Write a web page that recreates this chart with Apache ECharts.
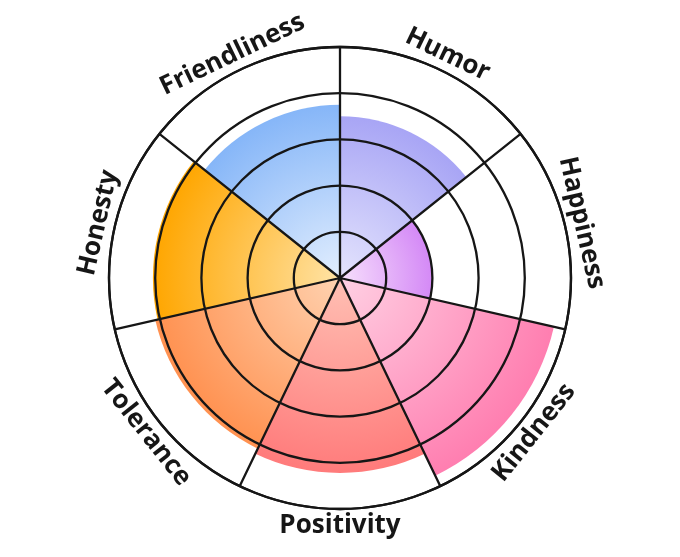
<!DOCTYPE html>
<html>
<head>
<meta charset="utf-8">
<script src="https://cdn.jsdelivr.net/npm/echarts@6/dist/echarts.min.js"></script>
<style>
  html, body { margin: 0; padding: 0; background: #fff; }
  #chart { width: 680px; height: 557px; }
</style>
</head>
<body>
<div id="chart"></div>
<script>
// traits, clockwise from the top
const traits = ['Humor', 'Happiness', 'Kindness', 'Positivity', 'Tolerance', 'Honesty', 'Friendliness']
const scores = [3.5, 2.0, 4.75, 4.22, 4.1, 4.05, 3.75]
const scaleMax = 5
const ringStep = 1

// colours: light near the centre, strong at the outer edge
const innerColors = ['#e4e4fd', '#f7e0fc', '#ffd0e3', '#ffc0b4', '#ffd2b0', '#ffe3a6', '#e2eefe']
const outerColors = ['#a8a5f5', '#d489f6', '#ff7eb0', '#ff7b7b', '#ff9150', '#ffa600', '#86b6f8']

const cx = 340
const cy = 278
const outerR = 231
const lineColor = '#161616'

const chart = echarts.init(document.getElementById('chart'))

const barData = scores.map((v, i) => ({
  value: v,
  itemStyle: {
    color: {
      type: 'radial',
      x: cx,
      y: cy,
      r: outerR * v / scaleMax,
      global: true,
      colorStops: [
        { offset: 0, color: innerColors[i] },
        { offset: 1, color: outerColors[i] }
      ]
    }
  }
}))

// labels set along the outer ring, turned to follow it
const labelR = 248
const step = 360 / traits.length
const labels = traits.map((name, i) => {
  const theta = 90 - (i + 0.5) * step
  const rad = theta * Math.PI / 180
  const top = Math.sin(rad) >= 0
  const rot = (top ? theta - 90 : theta + 90) * Math.PI / 180
  return {
    type: 'text',
    x: cx + labelR * Math.cos(rad),
    y: cy - labelR * Math.sin(rad),
    rotation: rot,
    style: {
      text: name,
      fill: '#161616',
      font: 'bold 26px "Open Sans", sans-serif',
      align: 'center',
      verticalAlign: 'middle'
    }
  }
})

const option = {
  animation: false,
  polar: {
    center: [cx, cy],
    radius: outerR
  },
  angleAxis: {
    type: 'category',
    data: traits,
    startAngle: 90,
    clockwise: true,
    boundaryGap: true,
    z: 10,
    axisLine: { show: true, lineStyle: { color: lineColor, width: 2.3 } },
    axisTick: { show: false },
    axisLabel: { show: false },
    splitLine: { show: true, lineStyle: { color: lineColor, width: 2.3 } }
  },
  radiusAxis: {
    type: 'value',
    min: 0,
    max: scaleMax,
    interval: ringStep,
    z: 10,
    axisLine: { show: false },
    axisTick: { show: false },
    axisLabel: { show: false },
    splitLine: { show: true, lineStyle: { color: lineColor, width: 2.3 } }
  },
  series: [
    {
      type: 'bar',
      coordinateSystem: 'polar',
      barCategoryGap: '0%',
      data: barData
    }
  ],
  graphic: labels
}

chart.setOption(option)
</script>
</body>
</html>
